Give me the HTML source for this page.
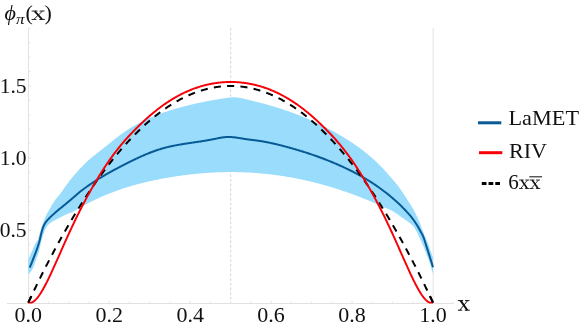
<!DOCTYPE html>
<html><head><meta charset="utf-8"><title>plot</title>
<style>
html,body{margin:0;padding:0;background:#fff;}
svg{display:block;will-change:transform;}
text{font-family:"Liberation Serif",serif;fill:#111;}
</style></head><body>
<svg width="580" height="327" viewBox="0 0 580 327">
<rect width="580" height="327" fill="#fff"/>
<!-- grid / axes -->
<g stroke="#e2e2e2" stroke-width="1" fill="none">
<line x1="230.65" y1="27.9" x2="230.65" y2="303" stroke-dasharray="2.8 1.92" stroke="#d6d6d6"/>
<line x1="433.15" y1="28" x2="433.15" y2="303"/>
<line x1="28.5" y1="28" x2="28.5" y2="303"/>
<line x1="7" y1="303.5" x2="453.6" y2="303.5"/>
<line x1="48.53" y1="303" x2="48.53" y2="301.70"/><line x1="68.77" y1="303" x2="68.77" y2="301.70"/><line x1="89.01" y1="303" x2="89.01" y2="301.70"/><line x1="109.24" y1="303" x2="109.24" y2="300.80"/><line x1="129.47" y1="303" x2="129.47" y2="301.70"/><line x1="149.71" y1="303" x2="149.71" y2="301.70"/><line x1="169.95" y1="303" x2="169.95" y2="301.70"/><line x1="190.18" y1="303" x2="190.18" y2="300.80"/><line x1="210.42" y1="303" x2="210.42" y2="301.70"/><line x1="250.89" y1="303" x2="250.89" y2="301.70"/><line x1="271.12" y1="303" x2="271.12" y2="300.80"/><line x1="291.36" y1="303" x2="291.36" y2="301.70"/><line x1="311.59" y1="303" x2="311.59" y2="301.70"/><line x1="331.82" y1="303" x2="331.82" y2="301.70"/><line x1="352.06" y1="303" x2="352.06" y2="300.80"/><line x1="372.30" y1="303" x2="372.30" y2="301.70"/><line x1="392.53" y1="303" x2="392.53" y2="301.70"/><line x1="412.77" y1="303" x2="412.77" y2="301.70"/><line x1="453.2" y1="303" x2="453.2" y2="301.8"/><line x1="29" y1="288.16" x2="30.30" y2="288.16"/><line x1="29" y1="273.72" x2="30.30" y2="273.72"/><line x1="29" y1="259.28" x2="30.30" y2="259.28"/><line x1="29" y1="244.84" x2="30.30" y2="244.84"/><line x1="29" y1="230.40" x2="31.20" y2="230.40"/><line x1="29" y1="215.96" x2="30.30" y2="215.96"/><line x1="29" y1="201.52" x2="30.30" y2="201.52"/><line x1="29" y1="187.08" x2="30.30" y2="187.08"/><line x1="29" y1="172.64" x2="30.30" y2="172.64"/><line x1="29" y1="158.20" x2="31.20" y2="158.20"/><line x1="29" y1="143.76" x2="30.30" y2="143.76"/><line x1="29" y1="129.32" x2="30.30" y2="129.32"/><line x1="29" y1="114.88" x2="30.30" y2="114.88"/><line x1="29" y1="100.44" x2="30.30" y2="100.44"/><line x1="29" y1="86.00" x2="31.20" y2="86.00"/><line x1="29" y1="71.56" x2="30.30" y2="71.56"/><line x1="29" y1="57.12" x2="30.30" y2="57.12"/><line x1="29" y1="42.68" x2="30.30" y2="42.68"/><line x1="29" y1="28.24" x2="30.30" y2="28.24"/>
</g>
<!-- band -->
<path d="M28.30,259.20 L28.98,257.72 L29.65,256.25 L30.33,254.78 L31.00,253.31 L31.68,251.85 L32.35,250.38 L33.03,248.87 L33.71,247.30 L34.38,245.75 L35.06,244.27 L35.73,242.92 L36.41,241.78 L37.08,240.94 L37.76,239.88 L38.43,237.98 L39.11,235.46 L39.79,232.87 L40.46,230.66 L41.14,228.55 L41.81,226.52 L42.49,224.56 L43.16,222.70 L43.84,220.91 L44.52,219.19 L45.19,217.55 L45.87,216.01 L46.54,214.60 L47.22,213.30 L47.89,212.07 L48.57,210.89 L49.24,209.73 L49.92,208.57 L50.60,207.40 L51.27,206.25 L51.95,205.11 L52.62,203.99 L53.30,202.89 L53.97,201.79 L54.65,200.72 L55.33,199.75 L56.00,198.87 L56.68,198.05 L57.35,197.26 L58.03,196.49 L58.70,195.71 L59.38,194.91 L60.05,194.06 L60.73,193.16 L61.41,192.24 L62.08,191.28 L62.76,190.31 L63.43,189.33 L64.11,188.35 L64.78,187.37 L65.46,186.40 L66.14,185.45 L66.81,184.52 L67.49,183.62 L68.16,182.72 L68.84,181.83 L69.51,180.94 L70.19,180.07 L70.86,179.21 L71.54,178.35 L72.22,177.52 L72.89,176.69 L73.57,175.89 L74.24,175.09 L74.92,174.31 L75.59,173.55 L76.27,172.79 L76.95,172.03 L77.62,171.29 L78.30,170.55 L78.97,169.81 L79.65,169.08 L80.32,168.36 L81.00,167.64 L81.67,166.93 L82.35,166.23 L83.03,165.54 L83.70,164.85 L84.38,164.18 L85.05,163.52 L85.73,162.87 L86.40,162.22 L87.08,161.59 L87.76,160.97 L88.43,160.35 L89.11,159.74 L89.78,159.15 L90.46,158.56 L91.13,157.99 L91.81,157.42 L92.48,156.86 L93.16,156.30 L93.84,155.75 L94.51,155.21 L95.19,154.68 L95.86,154.14 L96.54,153.61 L97.21,153.09 L97.89,152.56 L98.57,152.04 L99.24,151.52 L99.92,150.99 L100.59,150.47 L101.27,149.95 L101.94,149.42 L102.62,148.89 L103.29,148.36 L103.97,147.83 L104.65,147.29 L105.32,146.75 L106.00,146.21 L106.67,145.66 L107.35,145.12 L108.02,144.57 L108.70,144.02 L109.38,143.47 L110.05,142.93 L110.73,142.38 L111.40,141.83 L112.08,141.29 L112.75,140.74 L113.43,140.20 L114.10,139.66 L114.78,139.12 L115.46,138.59 L116.13,138.06 L116.81,137.53 L117.48,137.01 L118.16,136.49 L118.83,135.98 L119.51,135.47 L120.19,134.97 L120.86,134.47 L121.54,133.98 L122.21,133.49 L122.89,133.01 L123.56,132.54 L124.24,132.07 L124.91,131.61 L125.59,131.15 L126.27,130.70 L126.94,130.25 L127.62,129.81 L128.29,129.37 L128.97,128.94 L129.64,128.51 L130.32,128.09 L131.00,127.67 L131.67,127.26 L132.35,126.86 L133.02,126.46 L133.70,126.06 L134.37,125.67 L135.05,125.28 L135.72,124.90 L136.40,124.52 L137.08,124.15 L137.75,123.78 L138.43,123.41 L139.10,123.05 L139.78,122.70 L140.45,122.35 L141.13,122.00 L141.81,121.66 L142.48,121.32 L143.16,120.98 L143.83,120.65 L144.51,120.33 L145.18,120.00 L145.86,119.69 L146.53,119.37 L147.21,119.06 L147.89,118.75 L148.56,118.45 L149.24,118.15 L149.91,117.85 L150.59,117.56 L151.26,117.27 L151.94,116.98 L152.62,116.70 L153.29,116.42 L153.97,116.15 L154.64,115.87 L155.32,115.60 L155.99,115.34 L156.67,115.07 L157.34,114.81 L158.02,114.56 L158.70,114.30 L159.37,114.05 L160.05,113.80 L160.72,113.55 L161.40,113.31 L162.07,113.07 L162.75,112.83 L163.43,112.60 L164.10,112.36 L164.78,112.13 L165.45,111.90 L166.13,111.68 L166.80,111.46 L167.48,111.23 L168.15,111.01 L168.83,110.80 L169.51,110.58 L170.18,110.37 L170.86,110.16 L171.53,109.95 L172.21,109.74 L172.88,109.54 L173.56,109.33 L174.24,109.13 L174.91,108.93 L175.59,108.73 L176.26,108.54 L176.94,108.34 L177.61,108.15 L178.29,107.96 L178.96,107.77 L179.64,107.58 L180.32,107.40 L180.99,107.21 L181.67,107.03 L182.34,106.85 L183.02,106.67 L183.69,106.49 L184.37,106.32 L185.05,106.14 L185.72,105.97 L186.40,105.80 L187.07,105.63 L187.75,105.46 L188.42,105.30 L189.10,105.13 L189.77,104.97 L190.45,104.81 L191.13,104.65 L191.80,104.49 L192.48,104.33 L193.15,104.17 L193.83,104.02 L194.50,103.87 L195.18,103.71 L195.86,103.56 L196.53,103.41 L197.21,103.27 L197.88,103.12 L198.56,102.97 L199.23,102.83 L199.91,102.69 L200.58,102.55 L201.26,102.41 L201.94,102.27 L202.61,102.13 L203.29,101.99 L203.96,101.86 L204.64,101.73 L205.31,101.59 L205.99,101.46 L206.67,101.33 L207.34,101.20 L208.02,101.07 L208.69,100.95 L209.37,100.82 L210.04,100.70 L210.72,100.57 L211.39,100.45 L212.07,100.33 L212.75,100.21 L213.42,100.09 L214.10,99.97 L214.77,99.85 L215.45,99.74 L216.12,99.62 L216.80,99.51 L217.48,99.39 L218.15,99.28 L218.83,99.17 L219.50,99.06 L220.18,98.95 L220.85,98.84 L221.53,98.73 L222.20,98.62 L222.88,98.52 L223.56,98.41 L224.23,98.31 L224.91,98.20 L225.58,98.10 L226.26,98.01 L226.93,97.91 L227.61,97.82 L228.29,97.74 L228.96,97.66 L229.64,97.59 L230.31,97.53 L230.99,97.47 L231.66,97.43 L232.34,97.39 L233.01,97.37 L233.69,97.36 L234.37,97.36 L235.04,97.37 L235.72,97.40 L236.39,97.44 L237.07,97.50 L237.74,97.57 L238.42,97.66 L239.10,97.76 L239.77,97.87 L240.45,97.99 L241.12,98.12 L241.80,98.26 L242.47,98.41 L243.15,98.56 L243.82,98.72 L244.50,98.88 L245.18,99.04 L245.85,99.20 L246.53,99.36 L247.20,99.52 L247.88,99.68 L248.55,99.85 L249.23,100.01 L249.91,100.18 L250.58,100.34 L251.26,100.51 L251.93,100.67 L252.61,100.84 L253.28,101.01 L253.96,101.17 L254.63,101.34 L255.31,101.51 L255.99,101.68 L256.66,101.85 L257.34,102.03 L258.01,102.20 L258.69,102.37 L259.36,102.55 L260.04,102.72 L260.72,102.90 L261.39,103.08 L262.07,103.26 L262.74,103.44 L263.42,103.62 L264.09,103.80 L264.77,103.98 L265.44,104.17 L266.12,104.35 L266.80,104.54 L267.47,104.73 L268.15,104.92 L268.82,105.11 L269.50,105.30 L270.17,105.50 L270.85,105.69 L271.53,105.89 L272.20,106.09 L272.88,106.29 L273.55,106.49 L274.23,106.69 L274.90,106.90 L275.58,107.10 L276.25,107.31 L276.93,107.52 L277.61,107.73 L278.28,107.94 L278.96,108.15 L279.63,108.37 L280.31,108.59 L280.98,108.80 L281.66,109.02 L282.34,109.24 L283.01,109.47 L283.69,109.69 L284.36,109.92 L285.04,110.15 L285.71,110.38 L286.39,110.61 L287.06,110.84 L287.74,111.08 L288.42,111.31 L289.09,111.55 L289.77,111.79 L290.44,112.03 L291.12,112.27 L291.79,112.52 L292.47,112.77 L293.15,113.01 L293.82,113.26 L294.50,113.52 L295.17,113.77 L295.85,114.03 L296.52,114.28 L297.20,114.54 L297.87,114.80 L298.55,115.07 L299.23,115.33 L299.90,115.60 L300.58,115.87 L301.25,116.14 L301.93,116.41 L302.60,116.69 L303.28,116.96 L303.96,117.24 L304.63,117.52 L305.31,117.80 L305.98,118.09 L306.66,118.37 L307.33,118.66 L308.01,118.95 L308.68,119.24 L309.36,119.54 L310.04,119.83 L310.71,120.13 L311.39,120.43 L312.06,120.73 L312.74,121.04 L313.41,121.35 L314.09,121.65 L314.77,121.96 L315.44,122.28 L316.12,122.59 L316.79,122.91 L317.47,123.23 L318.14,123.55 L318.82,123.87 L319.49,124.20 L320.17,124.53 L320.85,124.86 L321.52,125.19 L322.20,125.52 L322.87,125.86 L323.55,126.20 L324.22,126.54 L324.90,126.88 L325.58,127.23 L326.25,127.58 L326.93,127.93 L327.60,128.28 L328.28,128.64 L328.95,128.99 L329.63,129.35 L330.30,129.71 L330.98,130.08 L331.66,130.45 L332.33,130.81 L333.01,131.19 L333.68,131.56 L334.36,131.94 L335.03,132.31 L335.71,132.70 L336.39,133.08 L337.06,133.46 L337.74,133.85 L338.41,134.24 L339.09,134.64 L339.76,135.03 L340.44,135.43 L341.11,135.83 L341.79,136.23 L342.47,136.64 L343.14,137.05 L343.82,137.46 L344.49,137.87 L345.17,138.29 L345.84,138.71 L346.52,139.13 L347.20,139.55 L347.87,139.98 L348.55,140.41 L349.22,140.85 L349.90,141.28 L350.57,141.72 L351.25,142.17 L351.92,142.61 L352.60,143.06 L353.28,143.52 L353.95,143.98 L354.63,144.44 L355.30,144.91 L355.98,145.38 L356.65,145.85 L357.33,146.33 L358.01,146.81 L358.68,147.30 L359.36,147.79 L360.03,148.29 L360.71,148.79 L361.38,149.30 L362.06,149.81 L362.73,150.32 L363.41,150.84 L364.09,151.37 L364.76,151.90 L365.44,152.44 L366.11,152.98 L366.79,153.53 L367.46,154.08 L368.14,154.64 L368.82,155.20 L369.49,155.77 L370.17,156.35 L370.84,156.93 L371.52,157.52 L372.19,158.12 L372.87,158.72 L373.54,159.32 L374.22,159.94 L374.90,160.56 L375.57,161.18 L376.25,161.82 L376.92,162.46 L377.60,163.10 L378.27,163.76 L378.95,164.42 L379.63,165.09 L380.30,165.76 L380.98,166.45 L381.65,167.14 L382.33,167.84 L383.00,168.56 L383.68,169.29 L384.35,170.03 L385.03,170.78 L385.71,171.54 L386.38,172.31 L387.06,173.09 L387.73,173.87 L388.41,174.66 L389.08,175.44 L389.76,176.22 L390.44,176.99 L391.11,177.76 L391.79,178.52 L392.46,179.27 L393.14,180.03 L393.81,180.79 L394.49,181.56 L395.16,182.34 L395.84,183.14 L396.52,183.96 L397.19,184.80 L397.87,185.66 L398.54,186.55 L399.22,187.47 L399.89,188.41 L400.57,189.38 L401.25,190.37 L401.92,191.38 L402.60,192.40 L403.27,193.43 L403.95,194.46 L404.62,195.50 L405.30,196.53 L405.97,197.56 L406.65,198.59 L407.33,199.63 L408.00,200.69 L408.68,201.74 L409.35,202.81 L410.03,203.87 L410.70,204.93 L411.38,205.98 L412.06,207.06 L412.73,208.18 L413.41,209.37 L414.08,210.63 L414.76,211.95 L415.43,213.31 L416.11,214.70 L416.78,216.11 L417.46,217.54 L418.14,219.00 L418.81,220.52 L419.49,222.11 L420.16,223.81 L420.84,225.61 L421.51,227.44 L422.19,229.25 L422.87,231.02 L423.54,232.79 L424.22,234.53 L424.89,236.24 L425.57,237.85 L426.24,239.38 L426.92,240.91 L427.59,242.49 L428.27,244.21 L428.95,246.07 L429.62,248.02 L430.30,249.99 L430.97,251.92 L431.65,253.80 L432.32,255.66 L433.00,257.50 L433.00,273.50 L432.32,271.86 L431.65,269.64 L430.97,266.81 L430.30,264.42 L429.62,262.41 L428.95,260.57 L428.27,258.81 L427.59,257.05 L426.92,255.25 L426.24,253.47 L425.57,251.70 L424.89,249.96 L424.22,248.27 L423.54,246.61 L422.87,245.02 L422.19,243.47 L421.51,241.97 L420.84,240.50 L420.16,239.05 L419.49,237.61 L418.81,236.17 L418.14,234.71 L417.46,233.27 L416.78,231.91 L416.11,230.66 L415.43,229.46 L414.76,228.31 L414.08,227.26 L413.41,226.34 L412.73,225.59 L412.06,224.91 L411.38,224.30 L410.70,223.74 L410.03,223.21 L409.35,222.70 L408.68,222.19 L408.00,221.67 L407.33,221.16 L406.65,220.67 L405.97,220.20 L405.30,219.73 L404.62,219.27 L403.95,218.81 L403.27,218.34 L402.60,217.88 L401.92,217.40 L401.25,216.92 L400.57,216.43 L399.89,215.95 L399.22,215.46 L398.54,214.98 L397.87,214.50 L397.19,214.03 L396.52,213.57 L395.84,213.13 L395.16,212.69 L394.49,212.25 L393.81,211.83 L393.14,211.42 L392.46,211.03 L391.79,210.65 L391.11,210.31 L390.44,209.98 L389.76,209.68 L389.08,209.39 L388.41,209.10 L387.73,208.82 L387.06,208.54 L386.38,208.26 L385.71,207.98 L385.03,207.69 L384.35,207.40 L383.68,207.11 L383.00,206.81 L382.33,206.50 L381.65,206.19 L380.98,205.89 L380.30,205.58 L379.63,205.28 L378.95,204.98 L378.27,204.67 L377.60,204.37 L376.92,204.07 L376.25,203.78 L375.57,203.48 L374.90,203.19 L374.22,202.89 L373.54,202.60 L372.87,202.31 L372.19,202.02 L371.52,201.74 L370.84,201.45 L370.17,201.17 L369.49,200.88 L368.82,200.60 L368.14,200.32 L367.46,200.04 L366.79,199.76 L366.11,199.49 L365.44,199.21 L364.76,198.94 L364.09,198.67 L363.41,198.40 L362.73,198.13 L362.06,197.86 L361.38,197.59 L360.71,197.33 L360.03,197.06 L359.36,196.80 L358.68,196.54 L358.01,196.28 L357.33,196.02 L356.65,195.77 L355.98,195.51 L355.30,195.26 L354.63,195.01 L353.95,194.75 L353.28,194.51 L352.60,194.26 L351.92,194.01 L351.25,193.76 L350.57,193.52 L349.90,193.28 L349.22,193.04 L348.55,192.80 L347.87,192.56 L347.20,192.32 L346.52,192.09 L345.84,191.85 L345.17,191.62 L344.49,191.39 L343.82,191.16 L343.14,190.93 L342.47,190.70 L341.79,190.47 L341.11,190.25 L340.44,190.03 L339.76,189.81 L339.09,189.59 L338.41,189.37 L337.74,189.15 L337.06,188.93 L336.39,188.72 L335.71,188.50 L335.03,188.29 L334.36,188.08 L333.68,187.87 L333.01,187.66 L332.33,187.46 L331.66,187.25 L330.98,187.05 L330.30,186.85 L329.63,186.65 L328.95,186.45 L328.28,186.25 L327.60,186.05 L326.93,185.86 L326.25,185.66 L325.58,185.47 L324.90,185.28 L324.22,185.09 L323.55,184.90 L322.87,184.71 L322.20,184.53 L321.52,184.34 L320.85,184.16 L320.17,183.98 L319.49,183.80 L318.82,183.62 L318.14,183.44 L317.47,183.27 L316.79,183.09 L316.12,182.92 L315.44,182.75 L314.77,182.58 L314.09,182.41 L313.41,182.24 L312.74,182.07 L312.06,181.91 L311.39,181.75 L310.71,181.58 L310.04,181.42 L309.36,181.26 L308.68,181.10 L308.01,180.95 L307.33,180.79 L306.66,180.64 L305.98,180.49 L305.31,180.34 L304.63,180.19 L303.96,180.04 L303.28,179.89 L302.60,179.75 L301.93,179.60 L301.25,179.46 L300.58,179.32 L299.90,179.18 L299.23,179.04 L298.55,178.90 L297.87,178.76 L297.20,178.63 L296.52,178.50 L295.85,178.37 L295.17,178.23 L294.50,178.11 L293.82,177.98 L293.15,177.85 L292.47,177.73 L291.79,177.60 L291.12,177.48 L290.44,177.36 L289.77,177.24 L289.09,177.12 L288.42,177.01 L287.74,176.89 L287.06,176.78 L286.39,176.66 L285.71,176.55 L285.04,176.44 L284.36,176.33 L283.69,176.23 L283.01,176.12 L282.34,176.02 L281.66,175.91 L280.98,175.81 L280.31,175.71 L279.63,175.61 L278.96,175.52 L278.28,175.42 L277.61,175.33 L276.93,175.23 L276.25,175.14 L275.58,175.05 L274.90,174.96 L274.23,174.87 L273.55,174.79 L272.88,174.70 L272.20,174.62 L271.53,174.53 L270.85,174.45 L270.17,174.37 L269.50,174.30 L268.82,174.22 L268.15,174.14 L267.47,174.07 L266.80,174.00 L266.12,173.92 L265.44,173.85 L264.77,173.79 L264.09,173.72 L263.42,173.65 L262.74,173.59 L262.07,173.52 L261.39,173.46 L260.72,173.40 L260.04,173.34 L259.36,173.28 L258.69,173.23 L258.01,173.17 L257.34,173.12 L256.66,173.07 L255.99,173.02 L255.31,172.97 L254.63,172.92 L253.96,172.87 L253.28,172.82 L252.61,172.78 L251.93,172.74 L251.26,172.70 L250.58,172.66 L249.91,172.62 L249.23,172.58 L248.55,172.54 L247.88,172.51 L247.20,172.48 L246.53,172.44 L245.85,172.41 L245.18,172.38 L244.50,172.36 L243.82,172.33 L243.15,172.30 L242.47,172.28 L241.80,172.26 L241.12,172.24 L240.45,172.22 L239.77,172.20 L239.10,172.18 L238.42,172.16 L237.74,172.15 L237.07,172.14 L236.39,172.13 L235.72,172.12 L235.04,172.11 L234.37,172.10 L233.69,172.09 L233.01,172.09 L232.34,172.08 L231.66,172.08 L230.99,172.08 L230.31,172.08 L229.64,172.08 L228.96,172.09 L228.29,172.09 L227.61,172.10 L226.93,172.10 L226.26,172.11 L225.58,172.12 L224.91,172.13 L224.23,172.15 L223.56,172.16 L222.88,172.18 L222.20,172.19 L221.53,172.21 L220.85,172.23 L220.18,172.25 L219.50,172.27 L218.83,172.30 L218.15,172.32 L217.48,172.35 L216.80,172.37 L216.12,172.40 L215.45,172.43 L214.77,172.46 L214.10,172.50 L213.42,172.53 L212.75,172.56 L212.07,172.60 L211.39,172.64 L210.72,172.68 L210.04,172.72 L209.37,172.76 L208.69,172.80 L208.02,172.85 L207.34,172.89 L206.67,172.94 L205.99,172.99 L205.31,173.03 L204.64,173.08 L203.96,173.14 L203.29,173.19 L202.61,173.24 L201.94,173.30 L201.26,173.36 L200.58,173.41 L199.91,173.47 L199.23,173.53 L198.56,173.60 L197.88,173.66 L197.21,173.72 L196.53,173.79 L195.86,173.86 L195.18,173.92 L194.50,173.99 L193.83,174.06 L193.15,174.14 L192.48,174.21 L191.80,174.28 L191.13,174.36 L190.45,174.43 L189.77,174.51 L189.10,174.59 L188.42,174.67 L187.75,174.75 L187.07,174.84 L186.40,174.92 L185.72,175.01 L185.05,175.09 L184.37,175.18 L183.69,175.27 L183.02,175.36 L182.34,175.45 L181.67,175.54 L180.99,175.64 L180.32,175.73 L179.64,175.83 L178.96,175.92 L178.29,176.02 L177.61,176.12 L176.94,176.22 L176.26,176.32 L175.59,176.43 L174.91,176.53 L174.24,176.64 L173.56,176.74 L172.88,176.85 L172.21,176.96 L171.53,177.07 L170.86,177.18 L170.18,177.30 L169.51,177.41 L168.83,177.52 L168.15,177.64 L167.48,177.76 L166.80,177.88 L166.13,177.99 L165.45,178.12 L164.78,178.24 L164.10,178.36 L163.43,178.48 L162.75,178.61 L162.07,178.74 L161.40,178.86 L160.72,178.99 L160.05,179.12 L159.37,179.25 L158.70,179.38 L158.02,179.52 L157.34,179.65 L156.67,179.79 L155.99,179.92 L155.32,180.06 L154.64,180.20 L153.97,180.34 L153.29,180.49 L152.62,180.63 L151.94,180.77 L151.26,180.92 L150.59,181.07 L149.91,181.22 L149.24,181.37 L148.56,181.52 L147.89,181.67 L147.21,181.83 L146.53,181.98 L145.86,182.14 L145.18,182.30 L144.51,182.46 L143.83,182.63 L143.16,182.79 L142.48,182.96 L141.81,183.12 L141.13,183.29 L140.45,183.46 L139.78,183.64 L139.10,183.81 L138.43,183.99 L137.75,184.17 L137.08,184.34 L136.40,184.53 L135.72,184.71 L135.05,184.89 L134.37,185.08 L133.70,185.27 L133.02,185.46 L132.35,185.65 L131.67,185.85 L131.00,186.04 L130.32,186.24 L129.64,186.44 L128.97,186.64 L128.29,186.85 L127.62,187.05 L126.94,187.26 L126.27,187.47 L125.59,187.68 L124.91,187.90 L124.24,188.11 L123.56,188.33 L122.89,188.55 L122.21,188.78 L121.54,189.00 L120.86,189.23 L120.19,189.46 L119.51,189.69 L118.83,189.92 L118.16,190.16 L117.48,190.40 L116.81,190.64 L116.13,190.88 L115.46,191.13 L114.78,191.38 L114.10,191.63 L113.43,191.88 L112.75,192.13 L112.08,192.39 L111.40,192.65 L110.73,192.91 L110.05,193.18 L109.38,193.45 L108.70,193.71 L108.02,193.99 L107.35,194.26 L106.67,194.54 L106.00,194.82 L105.32,195.10 L104.65,195.39 L103.97,195.68 L103.29,195.97 L102.62,196.26 L101.94,196.56 L101.27,196.85 L100.59,197.16 L99.92,197.46 L99.24,197.77 L98.57,198.07 L97.89,198.39 L97.21,198.70 L96.54,199.02 L95.86,199.34 L95.19,199.66 L94.51,199.98 L93.84,200.30 L93.16,200.63 L92.48,200.96 L91.81,201.29 L91.13,201.62 L90.46,201.96 L89.78,202.30 L89.11,202.63 L88.43,202.97 L87.76,203.31 L87.08,203.66 L86.40,204.00 L85.73,204.35 L85.05,204.69 L84.38,205.04 L83.70,205.40 L83.03,205.76 L82.35,206.14 L81.67,206.52 L81.00,206.91 L80.32,207.32 L79.65,207.74 L78.97,208.17 L78.30,208.61 L77.62,209.05 L76.95,209.50 L76.27,209.94 L75.59,210.37 L74.92,210.78 L74.24,211.16 L73.57,211.52 L72.89,211.84 L72.22,212.13 L71.54,212.40 L70.86,212.64 L70.19,212.88 L69.51,213.12 L68.84,213.37 L68.16,213.62 L67.49,213.89 L66.81,214.18 L66.14,214.49 L65.46,214.81 L64.78,215.13 L64.11,215.47 L63.43,215.81 L62.76,216.16 L62.08,216.50 L61.41,216.85 L60.73,217.18 L60.05,217.52 L59.38,217.85 L58.70,218.18 L58.03,218.52 L57.35,218.86 L56.68,219.20 L56.00,219.55 L55.33,219.91 L54.65,220.28 L53.97,220.65 L53.30,221.02 L52.62,221.39 L51.95,221.78 L51.27,222.20 L50.60,222.67 L49.92,223.18 L49.24,223.77 L48.57,224.43 L47.89,225.18 L47.22,226.02 L46.54,226.98 L45.87,228.07 L45.19,229.48 L44.52,231.12 L43.84,232.89 L43.16,234.80 L42.49,236.91 L41.81,239.23 L41.14,241.87 L40.46,244.98 L39.79,248.07 L39.11,250.66 L38.43,252.86 L37.76,254.85 L37.08,256.74 L36.41,258.61 L35.73,260.57 L35.06,262.61 L34.38,264.62 L33.71,266.48 L33.03,268.05 L32.35,269.28 L31.68,270.30 L31.00,271.19 L30.33,272.00 L29.65,272.75 L28.98,273.42 L28.30,274.00 Z" fill="#99dcfb" stroke="none"/>
<!-- LaMET -->
<path d="M29.65,267.64 L30.33,266.02 L31.00,264.40 L31.68,262.76 L32.35,261.10 L33.03,259.42 L33.71,257.70 L34.38,255.95 L35.06,254.15 L35.73,252.35 L36.41,250.54 L37.08,248.70 L37.76,246.77 L38.43,244.72 L39.11,242.51 L39.79,240.00 L40.46,236.99 L41.14,234.04 L41.81,231.47 L42.49,229.08 L43.16,227.09 L43.84,225.53 L44.52,224.18 L45.19,223.02 L45.87,222.02 L46.54,221.15 L47.22,220.36 L47.89,219.64 L48.57,218.95 L49.24,218.26 L49.92,217.57 L50.60,216.90 L51.27,216.25 L51.95,215.62 L52.62,214.99 L53.30,214.38 L53.97,213.76 L54.65,213.15 L55.33,212.54 L56.00,211.95 L56.68,211.36 L57.35,210.77 L58.03,210.20 L58.70,209.63 L59.38,209.07 L60.05,208.52 L60.73,207.98 L61.41,207.45 L62.08,206.92 L62.76,206.38 L63.43,205.84 L64.11,205.30 L64.78,204.75 L65.46,204.19 L66.14,203.63 L66.81,203.06 L67.49,202.50 L68.16,201.93 L68.84,201.36 L69.51,200.79 L70.19,200.23 L70.86,199.66 L71.54,199.09 L72.22,198.52 L72.89,197.94 L73.57,197.36 L74.24,196.77 L74.92,196.18 L75.59,195.58 L76.27,194.99 L76.95,194.40 L77.62,193.80 L78.30,193.22 L78.97,192.64 L79.65,192.08 L80.32,191.53 L81.00,190.99 L81.67,190.46 L82.35,189.95 L83.03,189.44 L83.70,188.95 L84.38,188.45 L85.05,187.96 L85.73,187.47 L86.40,186.99 L87.08,186.51 L87.76,186.03 L88.43,185.56 L89.11,185.09 L89.78,184.63 L90.46,184.17 L91.13,183.71 L91.81,183.26 L92.48,182.81 L93.16,182.36 L93.84,181.92 L94.51,181.48 L95.19,181.05 L95.86,180.61 L96.54,180.18 L97.21,179.76 L97.89,179.34 L98.57,178.92 L99.24,178.50 L99.92,178.09 L100.59,177.68 L101.27,177.27 L101.94,176.86 L102.62,176.46 L103.29,176.06 L103.97,175.66 L104.65,175.27 L105.32,174.88 L106.00,174.49 L106.67,174.10 L107.35,173.71 L108.02,173.33 L108.70,172.95 L109.38,172.57 L110.05,172.20 L110.73,171.82 L111.40,171.45 L112.08,171.08 L112.75,170.71 L113.43,170.34 L114.10,169.97 L114.78,169.61 L115.46,169.25 L116.13,168.89 L116.81,168.53 L117.48,168.17 L118.16,167.81 L118.83,167.45 L119.51,167.10 L120.19,166.75 L120.86,166.39 L121.54,166.04 L122.21,165.69 L122.89,165.34 L123.56,164.99 L124.24,164.64 L124.91,164.30 L125.59,163.95 L126.27,163.61 L126.94,163.26 L127.62,162.92 L128.29,162.58 L128.97,162.24 L129.64,161.90 L130.32,161.57 L131.00,161.23 L131.67,160.90 L132.35,160.57 L133.02,160.24 L133.70,159.91 L134.37,159.58 L135.05,159.26 L135.72,158.94 L136.40,158.62 L137.08,158.30 L137.75,157.98 L138.43,157.67 L139.10,157.36 L139.78,157.05 L140.45,156.74 L141.13,156.44 L141.81,156.14 L142.48,155.84 L143.16,155.54 L143.83,155.25 L144.51,154.96 L145.18,154.67 L145.86,154.39 L146.53,154.11 L147.21,153.83 L147.89,153.55 L148.56,153.28 L149.24,153.01 L149.91,152.74 L150.59,152.48 L151.26,152.22 L151.94,151.96 L152.62,151.71 L153.29,151.46 L153.97,151.22 L154.64,150.97 L155.32,150.74 L155.99,150.50 L156.67,150.27 L157.34,150.04 L158.02,149.82 L158.70,149.60 L159.37,149.39 L160.05,149.18 L160.72,148.97 L161.40,148.77 L162.07,148.57 L162.75,148.38 L163.43,148.19 L164.10,148.00 L164.78,147.82 L165.45,147.64 L166.13,147.47 L166.80,147.30 L167.48,147.13 L168.15,146.97 L168.83,146.81 L169.51,146.65 L170.18,146.50 L170.86,146.35 L171.53,146.20 L172.21,146.06 L172.88,145.91 L173.56,145.77 L174.24,145.64 L174.91,145.50 L175.59,145.37 L176.26,145.24 L176.94,145.12 L177.61,144.99 L178.29,144.87 L178.96,144.75 L179.64,144.63 L180.32,144.52 L180.99,144.40 L181.67,144.29 L182.34,144.18 L183.02,144.07 L183.69,143.96 L184.37,143.85 L185.05,143.74 L185.72,143.64 L186.40,143.53 L187.07,143.43 L187.75,143.33 L188.42,143.22 L189.10,143.12 L189.77,143.02 L190.45,142.92 L191.13,142.82 L191.80,142.72 L192.48,142.62 L193.15,142.52 L193.83,142.42 L194.50,142.32 L195.18,142.22 L195.86,142.12 L196.53,142.02 L197.21,141.92 L197.88,141.82 L198.56,141.72 L199.23,141.62 L199.91,141.52 L200.58,141.41 L201.26,141.31 L201.94,141.20 L202.61,141.10 L203.29,140.99 L203.96,140.88 L204.64,140.77 L205.31,140.66 L205.99,140.55 L206.67,140.43 L207.34,140.32 L208.02,140.20 L208.69,140.08 L209.37,139.96 L210.04,139.84 L210.72,139.71 L211.39,139.59 L212.07,139.46 L212.75,139.33 L213.42,139.20 L214.10,139.06 L214.77,138.92 L215.45,138.78 L216.12,138.64 L216.80,138.50 L217.48,138.36 L218.15,138.22 L218.83,138.08 L219.50,137.95 L220.18,137.82 L220.85,137.70 L221.53,137.59 L222.20,137.49 L222.88,137.39 L223.56,137.31 L224.23,137.23 L224.91,137.16 L225.58,137.11 L226.26,137.06 L226.93,137.03 L227.61,137.00 L228.29,136.99 L228.96,136.99 L229.64,137.00 L230.31,137.02 L230.99,137.05 L231.66,137.10 L232.34,137.15 L233.01,137.21 L233.69,137.27 L234.37,137.35 L235.04,137.43 L235.72,137.51 L236.39,137.61 L237.07,137.70 L237.74,137.80 L238.42,137.91 L239.10,138.01 L239.77,138.12 L240.45,138.23 L241.12,138.35 L241.80,138.46 L242.47,138.57 L243.15,138.68 L243.82,138.79 L244.50,138.90 L245.18,139.00 L245.85,139.10 L246.53,139.20 L247.20,139.30 L247.88,139.39 L248.55,139.48 L249.23,139.57 L249.91,139.66 L250.58,139.74 L251.26,139.83 L251.93,139.91 L252.61,140.00 L253.28,140.08 L253.96,140.17 L254.63,140.25 L255.31,140.34 L255.99,140.43 L256.66,140.52 L257.34,140.61 L258.01,140.70 L258.69,140.80 L259.36,140.90 L260.04,141.00 L260.72,141.11 L261.39,141.22 L262.07,141.33 L262.74,141.44 L263.42,141.56 L264.09,141.68 L264.77,141.80 L265.44,141.92 L266.12,142.05 L266.80,142.18 L267.47,142.31 L268.15,142.45 L268.82,142.58 L269.50,142.72 L270.17,142.86 L270.85,143.01 L271.53,143.15 L272.20,143.30 L272.88,143.45 L273.55,143.60 L274.23,143.76 L274.90,143.92 L275.58,144.07 L276.25,144.23 L276.93,144.40 L277.61,144.56 L278.28,144.72 L278.96,144.89 L279.63,145.06 L280.31,145.23 L280.98,145.40 L281.66,145.58 L282.34,145.75 L283.01,145.93 L283.69,146.10 L284.36,146.28 L285.04,146.46 L285.71,146.64 L286.39,146.83 L287.06,147.01 L287.74,147.19 L288.42,147.38 L289.09,147.57 L289.77,147.75 L290.44,147.94 L291.12,148.13 L291.79,148.32 L292.47,148.51 L293.15,148.71 L293.82,148.90 L294.50,149.10 L295.17,149.29 L295.85,149.49 L296.52,149.69 L297.20,149.89 L297.87,150.09 L298.55,150.29 L299.23,150.50 L299.90,150.70 L300.58,150.91 L301.25,151.12 L301.93,151.33 L302.60,151.54 L303.28,151.75 L303.96,151.96 L304.63,152.17 L305.31,152.39 L305.98,152.61 L306.66,152.82 L307.33,153.04 L308.01,153.26 L308.68,153.49 L309.36,153.71 L310.04,153.94 L310.71,154.16 L311.39,154.39 L312.06,154.62 L312.74,154.85 L313.41,155.08 L314.09,155.32 L314.77,155.55 L315.44,155.79 L316.12,156.03 L316.79,156.27 L317.47,156.51 L318.14,156.76 L318.82,157.00 L319.49,157.25 L320.17,157.50 L320.85,157.75 L321.52,158.00 L322.20,158.25 L322.87,158.51 L323.55,158.76 L324.22,159.02 L324.90,159.28 L325.58,159.54 L326.25,159.81 L326.93,160.07 L327.60,160.34 L328.28,160.61 L328.95,160.88 L329.63,161.15 L330.30,161.43 L330.98,161.70 L331.66,161.98 L332.33,162.26 L333.01,162.54 L333.68,162.83 L334.36,163.11 L335.03,163.40 L335.71,163.69 L336.39,163.98 L337.06,164.28 L337.74,164.57 L338.41,164.87 L339.09,165.17 L339.76,165.47 L340.44,165.77 L341.11,166.08 L341.79,166.39 L342.47,166.70 L343.14,167.01 L343.82,167.32 L344.49,167.64 L345.17,167.96 L345.84,168.28 L346.52,168.60 L347.20,168.92 L347.87,169.25 L348.55,169.58 L349.22,169.91 L349.90,170.24 L350.57,170.58 L351.25,170.92 L351.92,171.26 L352.60,171.61 L353.28,171.95 L353.95,172.30 L354.63,172.65 L355.30,173.01 L355.98,173.37 L356.65,173.73 L357.33,174.09 L358.01,174.46 L358.68,174.83 L359.36,175.20 L360.03,175.58 L360.71,175.95 L361.38,176.34 L362.06,176.72 L362.73,177.11 L363.41,177.50 L364.09,177.89 L364.76,178.29 L365.44,178.69 L366.11,179.10 L366.79,179.51 L367.46,179.92 L368.14,180.33 L368.82,180.75 L369.49,181.17 L370.17,181.60 L370.84,182.03 L371.52,182.46 L372.19,182.90 L372.87,183.34 L373.54,183.79 L374.22,184.24 L374.90,184.69 L375.57,185.15 L376.25,185.61 L376.92,186.07 L377.60,186.54 L378.27,187.01 L378.95,187.49 L379.63,187.97 L380.30,188.46 L380.98,188.95 L381.65,189.44 L382.33,189.94 L383.00,190.44 L383.68,190.94 L384.35,191.45 L385.03,191.96 L385.71,192.48 L386.38,193.00 L387.06,193.54 L387.73,194.08 L388.41,194.63 L389.08,195.19 L389.76,195.75 L390.44,196.32 L391.11,196.89 L391.79,197.47 L392.46,198.05 L393.14,198.63 L393.81,199.21 L394.49,199.79 L395.16,200.38 L395.84,200.98 L396.52,201.59 L397.19,202.20 L397.87,202.82 L398.54,203.45 L399.22,204.09 L399.89,204.74 L400.57,205.40 L401.25,206.06 L401.92,206.74 L402.60,207.43 L403.27,208.12 L403.95,208.82 L404.62,209.52 L405.30,210.23 L405.97,210.93 L406.65,211.64 L407.33,212.35 L408.00,213.08 L408.68,213.82 L409.35,214.59 L410.03,215.37 L410.70,216.18 L411.38,217.03 L412.06,217.90 L412.73,218.80 L413.41,219.74 L414.08,220.70 L414.76,221.68 L415.43,222.69 L416.11,223.73 L416.78,224.82 L417.46,225.94 L418.14,227.09 L418.81,228.27 L419.49,229.47 L420.16,230.69 L420.84,231.90 L421.51,233.12 L422.19,234.40 L422.87,235.79 L423.54,237.34 L424.22,239.19 L424.89,241.28 L425.57,243.46 L426.24,245.63 L426.92,247.73 L427.59,249.86 L428.27,252.00 L428.95,254.15 L429.62,256.31 L430.30,258.47 L430.97,260.64 L431.65,262.82 L432.32,265.01 L433.00,267.20" fill="none" stroke="#075a95" stroke-width="2" stroke-linejoin="round"/>
<!-- 6x xbar -->
<path d="M28.30,302.60 L28.81,301.52 L29.31,300.44 L29.82,299.36 L30.33,298.28 L30.83,297.21 L31.34,296.14 L31.85,295.08 L32.35,294.01 L32.86,292.95 L33.37,291.89 L33.87,290.84 L34.38,289.78 L34.88,288.73 L35.39,287.69 L35.90,286.64 L36.40,285.60 L36.91,284.56 L37.42,283.52 L37.92,282.49 L38.43,281.46 L38.94,280.43 L39.44,279.40 L39.95,278.38 L40.46,277.36 L40.96,276.34 L41.47,275.32 L41.98,274.31 L42.48,273.30 L42.99,272.30 L43.50,271.29 L44.00,270.29 L44.51,269.29 L45.01,268.29 L45.52,267.30 L46.03,266.31 L46.53,265.32 L47.04,264.34 L47.55,263.35 L48.05,262.37 L48.56,261.40 L49.07,260.42 L49.57,259.45 L50.08,258.48 L50.59,257.52 L51.09,256.55 L51.60,255.59 L52.11,254.63 L52.61,253.68 L53.12,252.73 L53.63,251.78 L54.13,250.83 L54.64,249.88 L55.14,248.94 L55.65,248.00 L56.16,247.07 L56.66,246.13 L57.17,245.20 L57.68,244.27 L58.18,243.35 L58.69,242.42 L59.20,241.50 L59.70,240.59 L60.21,239.67 L60.72,238.76 L61.22,237.85 L61.73,236.94 L62.24,236.04 L62.74,235.14 L63.25,234.24 L63.76,233.35 L64.26,232.45 L64.77,231.56 L65.28,230.67 L65.78,229.79 L66.29,228.91 L66.79,228.03 L67.30,227.15 L67.81,226.28 L68.31,225.41 L68.82,224.54 L69.33,223.67 L69.83,222.81 L70.34,221.95 L70.85,221.09 L71.35,220.24 L71.86,219.38 L72.37,218.53 L72.87,217.69 L73.38,216.84 L73.89,216.00 L74.39,215.16 L74.90,214.33 L75.41,213.49 L75.91,212.66 L76.42,211.83 L76.92,211.01 L77.43,210.19 L77.94,209.37 L78.44,208.55 L78.95,207.74 L79.46,206.92 L79.96,206.12 L80.47,205.31 L80.98,204.51 L81.48,203.71 L81.99,202.91 L82.50,202.11 L83.00,201.32 L83.51,200.53 L84.02,199.74 L84.52,198.96 L85.03,198.18 L85.54,197.40 L86.04,196.62 L86.55,195.85 L87.05,195.08 L87.56,194.31 L88.07,193.54 L88.57,192.78 L89.08,192.02 L89.59,191.26 L90.09,190.51 L90.60,189.76 L91.11,189.01 L91.61,188.26 L92.12,187.52 L92.63,186.78 L93.13,186.04 L93.64,185.30 L94.15,184.57 L94.65,183.84 L95.16,183.11 L95.67,182.39 L96.17,181.67 L96.68,180.95 L97.19,180.23 L97.69,179.52 L98.20,178.80 L98.70,178.10 L99.21,177.39 L99.72,176.69 L100.22,175.99 L100.73,175.29 L101.24,174.59 L101.74,173.90 L102.25,173.21 L102.76,172.53 L103.26,171.84 L103.77,171.16 L104.28,170.48 L104.78,169.81 L105.29,169.13 L105.80,168.46 L106.30,167.80 L106.81,167.13 L107.32,166.47 L107.82,165.81 L108.33,165.15 L108.83,164.50 L109.34,163.85 L109.85,163.20 L110.35,162.55 L110.86,161.91 L111.37,161.27 L111.87,160.63 L112.38,159.99 L112.89,159.36 L113.39,158.73 L113.90,158.11 L114.41,157.48 L114.91,156.86 L115.42,156.24 L115.93,155.62 L116.43,155.01 L116.94,154.40 L117.45,153.79 L117.95,153.19 L118.46,152.58 L118.96,151.98 L119.47,151.39 L119.98,150.79 L120.48,150.20 L120.99,149.61 L121.50,149.03 L122.00,148.44 L122.51,147.86 L123.02,147.28 L123.52,146.71 L124.03,146.14 L124.54,145.57 L125.04,145.00 L125.55,144.43 L126.06,143.87 L126.56,143.31 L127.07,142.76 L127.58,142.20 L128.08,141.65 L128.59,141.10 L129.10,140.56 L129.60,140.01 L130.11,139.47 L130.61,138.94 L131.12,138.40 L131.63,137.87 L132.13,137.34 L132.64,136.81 L133.15,136.29 L133.65,135.77 L134.16,135.25 L134.67,134.74 L135.17,134.22 L135.68,133.71 L136.19,133.20 L136.69,132.70 L137.20,132.20 L137.71,131.70 L138.21,131.20 L138.72,130.71 L139.23,130.22 L139.73,129.73 L140.24,129.24 L140.74,128.76 L141.25,128.28 L141.76,127.80 L142.26,127.33 L142.77,126.85 L143.28,126.38 L143.78,125.92 L144.29,125.45 L144.80,124.99 L145.30,124.53 L145.81,124.08 L146.32,123.62 L146.82,123.17 L147.33,122.72 L147.84,122.28 L148.34,121.84 L148.85,121.40 L149.36,120.96 L149.86,120.53 L150.37,120.09 L150.87,119.67 L151.38,119.24 L151.89,118.82 L152.39,118.40 L152.90,117.98 L153.41,117.56 L153.91,117.15 L154.42,116.74 L154.93,116.33 L155.43,115.93 L155.94,115.53 L156.45,115.13 L156.95,114.73 L157.46,114.34 L157.97,113.95 L158.47,113.56 L158.98,113.17 L159.49,112.79 L159.99,112.41 L160.50,112.03 L161.01,111.66 L161.51,111.29 L162.02,110.92 L162.52,110.55 L163.03,110.19 L163.54,109.83 L164.04,109.47 L164.55,109.11 L165.06,108.76 L165.56,108.41 L166.07,108.06 L166.58,107.72 L167.08,107.38 L167.59,107.04 L168.10,106.70 L168.60,106.37 L169.11,106.03 L169.62,105.71 L170.12,105.38 L170.63,105.06 L171.14,104.74 L171.64,104.42 L172.15,104.10 L172.65,103.79 L173.16,103.48 L173.67,103.18 L174.17,102.87 L174.68,102.57 L175.19,102.27 L175.69,101.98 L176.20,101.68 L176.71,101.39 L177.21,101.11 L177.72,100.82 L178.23,100.54 L178.73,100.26 L179.24,99.98 L179.75,99.71 L180.25,99.44 L180.76,99.17 L181.27,98.90 L181.77,98.64 L182.28,98.38 L182.78,98.12 L183.29,97.86 L183.80,97.61 L184.30,97.36 L184.81,97.12 L185.32,96.87 L185.82,96.63 L186.33,96.39 L186.84,96.15 L187.34,95.92 L187.85,95.69 L188.36,95.46 L188.86,95.24 L189.37,95.01 L189.88,94.79 L190.38,94.58 L190.89,94.36 L191.40,94.15 L191.90,93.94 L192.41,93.74 L192.92,93.53 L193.42,93.33 L193.93,93.13 L194.43,92.94 L194.94,92.75 L195.45,92.56 L195.95,92.37 L196.46,92.18 L196.97,92.00 L197.47,91.82 L197.98,91.65 L198.49,91.47 L198.99,91.30 L199.50,91.13 L200.01,90.97 L200.51,90.80 L201.02,90.64 L201.53,90.49 L202.03,90.33 L202.54,90.18 L203.05,90.03 L203.55,89.88 L204.06,89.74 L204.56,89.60 L205.07,89.46 L205.58,89.33 L206.08,89.19 L206.59,89.06 L207.10,88.93 L207.60,88.81 L208.11,88.69 L208.62,88.57 L209.12,88.45 L209.63,88.34 L210.14,88.23 L210.64,88.12 L211.15,88.01 L211.66,87.91 L212.16,87.81 L212.67,87.71 L213.18,87.62 L213.68,87.52 L214.19,87.43 L214.69,87.35 L215.20,87.26 L215.71,87.18 L216.21,87.10 L216.72,87.03 L217.23,86.95 L217.73,86.88 L218.24,86.81 L218.75,86.75 L219.25,86.69 L219.76,86.63 L220.27,86.57 L220.77,86.52 L221.28,86.46 L221.79,86.42 L222.29,86.37 L222.80,86.33 L223.31,86.29 L223.81,86.25 L224.32,86.21 L224.83,86.18 L225.33,86.15 L225.84,86.12 L226.34,86.10 L226.85,86.08 L227.36,86.06 L227.86,86.04 L228.37,86.03 L228.88,86.02 L229.38,86.01 L229.89,86.00 L230.40,86.00 L230.90,86.00 L231.41,86.00 L231.92,86.01 L232.42,86.02 L232.93,86.03 L233.44,86.04 L233.94,86.06 L234.45,86.08 L234.96,86.10 L235.46,86.12 L235.97,86.15 L236.47,86.18 L236.98,86.21 L237.49,86.25 L237.99,86.29 L238.50,86.33 L239.01,86.37 L239.51,86.42 L240.02,86.46 L240.53,86.52 L241.03,86.57 L241.54,86.63 L242.05,86.69 L242.55,86.75 L243.06,86.81 L243.57,86.88 L244.07,86.95 L244.58,87.03 L245.09,87.10 L245.59,87.18 L246.10,87.26 L246.61,87.35 L247.11,87.43 L247.62,87.52 L248.12,87.62 L248.63,87.71 L249.14,87.81 L249.64,87.91 L250.15,88.01 L250.66,88.12 L251.16,88.23 L251.67,88.34 L252.18,88.45 L252.68,88.57 L253.19,88.69 L253.70,88.81 L254.20,88.93 L254.71,89.06 L255.22,89.19 L255.72,89.33 L256.23,89.46 L256.74,89.60 L257.24,89.74 L257.75,89.88 L258.25,90.03 L258.76,90.18 L259.27,90.33 L259.77,90.49 L260.28,90.64 L260.79,90.80 L261.29,90.97 L261.80,91.13 L262.31,91.30 L262.81,91.47 L263.32,91.65 L263.83,91.82 L264.33,92.00 L264.84,92.18 L265.35,92.37 L265.85,92.56 L266.36,92.75 L266.87,92.94 L267.37,93.13 L267.88,93.33 L268.38,93.53 L268.89,93.74 L269.40,93.94 L269.90,94.15 L270.41,94.36 L270.92,94.58 L271.42,94.79 L271.93,95.01 L272.44,95.24 L272.94,95.46 L273.45,95.69 L273.96,95.92 L274.46,96.15 L274.97,96.39 L275.48,96.63 L275.98,96.87 L276.49,97.12 L277.00,97.36 L277.50,97.61 L278.01,97.86 L278.52,98.12 L279.02,98.38 L279.53,98.64 L280.03,98.90 L280.54,99.17 L281.05,99.44 L281.55,99.71 L282.06,99.98 L282.57,100.26 L283.07,100.54 L283.58,100.82 L284.09,101.11 L284.59,101.39 L285.10,101.68 L285.61,101.98 L286.11,102.27 L286.62,102.57 L287.13,102.87 L287.63,103.18 L288.14,103.48 L288.65,103.79 L289.15,104.10 L289.66,104.42 L290.16,104.74 L290.67,105.06 L291.18,105.38 L291.68,105.71 L292.19,106.03 L292.70,106.37 L293.20,106.70 L293.71,107.04 L294.22,107.38 L294.72,107.72 L295.23,108.06 L295.74,108.41 L296.24,108.76 L296.75,109.11 L297.26,109.47 L297.76,109.83 L298.27,110.19 L298.78,110.55 L299.28,110.92 L299.79,111.29 L300.29,111.66 L300.80,112.03 L301.31,112.41 L301.81,112.79 L302.32,113.17 L302.83,113.56 L303.33,113.95 L303.84,114.34 L304.35,114.73 L304.85,115.13 L305.36,115.53 L305.87,115.93 L306.37,116.33 L306.88,116.74 L307.39,117.15 L307.89,117.56 L308.40,117.98 L308.91,118.40 L309.41,118.82 L309.92,119.24 L310.43,119.67 L310.93,120.09 L311.44,120.53 L311.94,120.96 L312.45,121.40 L312.96,121.84 L313.46,122.28 L313.97,122.72 L314.48,123.17 L314.98,123.62 L315.49,124.08 L316.00,124.53 L316.50,124.99 L317.01,125.45 L317.52,125.92 L318.02,126.38 L318.53,126.85 L319.04,127.33 L319.54,127.80 L320.05,128.28 L320.56,128.76 L321.06,129.24 L321.57,129.73 L322.07,130.22 L322.58,130.71 L323.09,131.20 L323.59,131.70 L324.10,132.20 L324.61,132.70 L325.11,133.20 L325.62,133.71 L326.13,134.22 L326.63,134.74 L327.14,135.25 L327.65,135.77 L328.15,136.29 L328.66,136.81 L329.17,137.34 L329.67,137.87 L330.18,138.40 L330.69,138.94 L331.19,139.47 L331.70,140.01 L332.20,140.56 L332.71,141.10 L333.22,141.65 L333.72,142.20 L334.23,142.76 L334.74,143.31 L335.24,143.87 L335.75,144.43 L336.26,145.00 L336.76,145.57 L337.27,146.14 L337.78,146.71 L338.28,147.28 L338.79,147.86 L339.30,148.44 L339.80,149.03 L340.31,149.61 L340.82,150.20 L341.32,150.79 L341.83,151.39 L342.34,151.98 L342.84,152.58 L343.35,153.19 L343.85,153.79 L344.36,154.40 L344.87,155.01 L345.37,155.62 L345.88,156.24 L346.39,156.86 L346.89,157.48 L347.40,158.11 L347.91,158.73 L348.41,159.36 L348.92,159.99 L349.43,160.63 L349.93,161.27 L350.44,161.91 L350.95,162.55 L351.45,163.20 L351.96,163.85 L352.47,164.50 L352.97,165.15 L353.48,165.81 L353.98,166.47 L354.49,167.13 L355.00,167.80 L355.50,168.46 L356.01,169.13 L356.52,169.81 L357.02,170.48 L357.53,171.16 L358.04,171.84 L358.54,172.53 L359.05,173.21 L359.56,173.90 L360.06,174.59 L360.57,175.29 L361.08,175.99 L361.58,176.69 L362.09,177.39 L362.60,178.10 L363.10,178.80 L363.61,179.52 L364.11,180.23 L364.62,180.95 L365.13,181.67 L365.63,182.39 L366.14,183.11 L366.65,183.84 L367.15,184.57 L367.66,185.30 L368.17,186.04 L368.67,186.78 L369.18,187.52 L369.69,188.26 L370.19,189.01 L370.70,189.76 L371.21,190.51 L371.71,191.26 L372.22,192.02 L372.73,192.78 L373.23,193.54 L373.74,194.31 L374.25,195.08 L374.75,195.85 L375.26,196.62 L375.76,197.40 L376.27,198.18 L376.78,198.96 L377.28,199.74 L377.79,200.53 L378.30,201.32 L378.80,202.11 L379.31,202.91 L379.82,203.71 L380.32,204.51 L380.83,205.31 L381.34,206.12 L381.84,206.92 L382.35,207.74 L382.86,208.55 L383.36,209.37 L383.87,210.19 L384.38,211.01 L384.88,211.83 L385.39,212.66 L385.89,213.49 L386.40,214.33 L386.91,215.16 L387.41,216.00 L387.92,216.84 L388.43,217.69 L388.93,218.53 L389.44,219.38 L389.95,220.24 L390.45,221.09 L390.96,221.95 L391.47,222.81 L391.97,223.67 L392.48,224.54 L392.99,225.41 L393.49,226.28 L394.00,227.15 L394.51,228.03 L395.01,228.91 L395.52,229.79 L396.02,230.67 L396.53,231.56 L397.04,232.45 L397.54,233.35 L398.05,234.24 L398.56,235.14 L399.06,236.04 L399.57,236.94 L400.08,237.85 L400.58,238.76 L401.09,239.67 L401.60,240.59 L402.10,241.50 L402.61,242.42 L403.12,243.35 L403.62,244.27 L404.13,245.20 L404.64,246.13 L405.14,247.07 L405.65,248.00 L406.16,248.94 L406.66,249.88 L407.17,250.83 L407.67,251.78 L408.18,252.73 L408.69,253.68 L409.19,254.63 L409.70,255.59 L410.21,256.55 L410.71,257.52 L411.22,258.48 L411.73,259.45 L412.23,260.42 L412.74,261.40 L413.25,262.37 L413.75,263.35 L414.26,264.34 L414.77,265.32 L415.27,266.31 L415.78,267.30 L416.29,268.29 L416.79,269.29 L417.30,270.29 L417.80,271.29 L418.31,272.30 L418.82,273.30 L419.32,274.31 L419.83,275.32 L420.34,276.34 L420.84,277.36 L421.35,278.38 L421.86,279.40 L422.36,280.43 L422.87,281.46 L423.38,282.49 L423.88,283.52 L424.39,284.56 L424.90,285.60 L425.40,286.64 L425.91,287.69 L426.42,288.73 L426.92,289.78 L427.43,290.84 L427.93,291.89 L428.44,292.95 L428.95,294.01 L429.45,295.08 L429.96,296.14 L430.47,297.21 L430.97,298.28 L431.48,299.36 L431.99,300.44 L432.49,301.52 L433.00,302.60" fill="none" stroke="#000" stroke-width="2" stroke-dasharray="7.100 6.232" stroke-dashoffset="-0.00"/>
<!-- RIV -->
<path d="M28.30,302.60 L28.98,302.60 L29.65,302.60 L30.33,302.60 L31.00,302.60 L31.68,302.49 L32.35,302.20 L33.03,301.83 L33.71,301.38 L34.38,300.86 L35.06,300.28 L35.73,299.62 L36.41,298.91 L37.08,298.14 L37.76,297.31 L38.43,296.43 L39.11,295.50 L39.79,294.52 L40.46,293.50 L41.14,292.43 L41.81,291.33 L42.49,290.18 L43.16,289.01 L43.84,287.80 L44.52,286.56 L45.19,285.29 L45.87,283.99 L46.54,282.67 L47.22,281.32 L47.89,279.96 L48.57,278.57 L49.24,277.17 L49.92,275.75 L50.60,274.31 L51.27,272.86 L51.95,271.40 L52.62,269.93 L53.30,268.45 L53.97,266.96 L54.65,265.46 L55.33,263.95 L56.00,262.44 L56.68,260.92 L57.35,259.40 L58.03,257.88 L58.70,256.36 L59.38,254.83 L60.05,253.30 L60.73,251.78 L61.41,250.25 L62.08,248.73 L62.76,247.21 L63.43,245.69 L64.11,244.18 L64.78,242.67 L65.46,241.16 L66.14,239.66 L66.81,238.16 L67.49,236.67 L68.16,235.19 L68.84,233.71 L69.51,232.24 L70.19,230.77 L70.86,229.31 L71.54,227.86 L72.22,226.42 L72.89,224.99 L73.57,223.56 L74.24,222.14 L74.92,220.73 L75.59,219.33 L76.27,217.94 L76.95,216.55 L77.62,215.18 L78.30,213.81 L78.97,212.46 L79.65,211.11 L80.32,209.77 L81.00,208.44 L81.67,207.12 L82.35,205.81 L83.03,204.51 L83.70,203.22 L84.38,201.93 L85.05,200.66 L85.73,199.39 L86.40,198.13 L87.08,196.89 L87.76,195.65 L88.43,194.42 L89.11,193.19 L89.78,191.98 L90.46,190.78 L91.13,189.58 L91.81,188.39 L92.48,187.21 L93.16,186.04 L93.84,184.88 L94.51,183.72 L95.19,182.57 L95.86,181.43 L96.54,180.30 L97.21,179.18 L97.89,178.06 L98.57,176.95 L99.24,175.85 L99.92,174.76 L100.59,173.68 L101.27,172.60 L101.94,171.53 L102.62,170.47 L103.29,169.42 L103.97,168.38 L104.65,167.34 L105.32,166.32 L106.00,165.30 L106.67,164.29 L107.35,163.29 L108.02,162.30 L108.70,161.32 L109.38,160.34 L110.05,159.38 L110.73,158.42 L111.40,157.48 L112.08,156.54 L112.75,155.62 L113.43,154.70 L114.10,153.79 L114.78,152.89 L115.46,152.00 L116.13,151.12 L116.81,150.25 L117.48,149.39 L118.16,148.54 L118.83,147.70 L119.51,146.86 L120.19,146.04 L120.86,145.22 L121.54,144.41 L122.21,143.61 L122.89,142.81 L123.56,142.03 L124.24,141.25 L124.91,140.48 L125.59,139.71 L126.27,138.95 L126.94,138.20 L127.62,137.46 L128.29,136.72 L128.97,135.99 L129.64,135.26 L130.32,134.54 L131.00,133.82 L131.67,133.11 L132.35,132.40 L133.02,131.70 L133.70,131.01 L134.37,130.32 L135.05,129.63 L135.72,128.95 L136.40,128.27 L137.08,127.60 L137.75,126.93 L138.43,126.27 L139.10,125.61 L139.78,124.95 L140.45,124.30 L141.13,123.65 L141.81,123.01 L142.48,122.38 L143.16,121.74 L143.83,121.12 L144.51,120.49 L145.18,119.87 L145.86,119.26 L146.53,118.65 L147.21,118.05 L147.89,117.45 L148.56,116.85 L149.24,116.26 L149.91,115.68 L150.59,115.10 L151.26,114.52 L151.94,113.95 L152.62,113.39 L153.29,112.83 L153.97,112.27 L154.64,111.72 L155.32,111.18 L155.99,110.64 L156.67,110.10 L157.34,109.57 L158.02,109.05 L158.70,108.53 L159.37,108.02 L160.05,107.51 L160.72,107.01 L161.40,106.51 L162.07,106.02 L162.75,105.53 L163.43,105.05 L164.10,104.57 L164.78,104.10 L165.45,103.63 L166.13,103.17 L166.80,102.71 L167.48,102.26 L168.15,101.82 L168.83,101.38 L169.51,100.94 L170.18,100.51 L170.86,100.09 L171.53,99.67 L172.21,99.25 L172.88,98.84 L173.56,98.44 L174.24,98.04 L174.91,97.65 L175.59,97.26 L176.26,96.88 L176.94,96.50 L177.61,96.12 L178.29,95.76 L178.96,95.39 L179.64,95.04 L180.32,94.68 L180.99,94.34 L181.67,93.99 L182.34,93.66 L183.02,93.33 L183.69,93.00 L184.37,92.68 L185.05,92.36 L185.72,92.05 L186.40,91.74 L187.07,91.44 L187.75,91.14 L188.42,90.85 L189.10,90.56 L189.77,90.28 L190.45,90.00 L191.13,89.73 L191.80,89.46 L192.48,89.20 L193.15,88.94 L193.83,88.69 L194.50,88.44 L195.18,88.20 L195.86,87.96 L196.53,87.73 L197.21,87.50 L197.88,87.28 L198.56,87.06 L199.23,86.85 L199.91,86.64 L200.58,86.43 L201.26,86.23 L201.94,86.04 L202.61,85.85 L203.29,85.66 L203.96,85.48 L204.64,85.31 L205.31,85.13 L205.99,84.97 L206.67,84.81 L207.34,84.65 L208.02,84.50 L208.69,84.35 L209.37,84.20 L210.04,84.06 L210.72,83.93 L211.39,83.80 L212.07,83.68 L212.75,83.55 L213.42,83.44 L214.10,83.33 L214.77,83.22 L215.45,83.12 L216.12,83.02 L216.80,82.93 L217.48,82.84 L218.15,82.75 L218.83,82.67 L219.50,82.60 L220.18,82.53 L220.85,82.46 L221.53,82.40 L222.20,82.34 L222.88,82.29 L223.56,82.24 L224.23,82.19 L224.91,82.15 L225.58,82.12 L226.26,82.09 L226.93,82.06 L227.61,82.04 L228.29,82.02 L228.96,82.01 L229.64,82.00 L230.31,82.00 L230.99,82.00 L231.66,82.00 L232.34,82.01 L233.01,82.02 L233.69,82.04 L234.37,82.06 L235.04,82.09 L235.72,82.12 L236.39,82.15 L237.07,82.19 L237.74,82.24 L238.42,82.29 L239.10,82.34 L239.77,82.40 L240.45,82.46 L241.12,82.53 L241.80,82.60 L242.47,82.67 L243.15,82.75 L243.82,82.84 L244.50,82.93 L245.18,83.02 L245.85,83.12 L246.53,83.22 L247.20,83.33 L247.88,83.44 L248.55,83.55 L249.23,83.68 L249.91,83.80 L250.58,83.93 L251.26,84.06 L251.93,84.20 L252.61,84.35 L253.28,84.50 L253.96,84.65 L254.63,84.81 L255.31,84.97 L255.99,85.13 L256.66,85.31 L257.34,85.48 L258.01,85.66 L258.69,85.85 L259.36,86.04 L260.04,86.23 L260.72,86.43 L261.39,86.64 L262.07,86.85 L262.74,87.06 L263.42,87.28 L264.09,87.50 L264.77,87.73 L265.44,87.96 L266.12,88.20 L266.80,88.44 L267.47,88.69 L268.15,88.94 L268.82,89.20 L269.50,89.46 L270.17,89.73 L270.85,90.00 L271.53,90.28 L272.20,90.56 L272.88,90.85 L273.55,91.14 L274.23,91.44 L274.90,91.74 L275.58,92.05 L276.25,92.36 L276.93,92.68 L277.61,93.00 L278.28,93.33 L278.96,93.66 L279.63,93.99 L280.31,94.34 L280.98,94.68 L281.66,95.04 L282.34,95.39 L283.01,95.76 L283.69,96.12 L284.36,96.50 L285.04,96.88 L285.71,97.26 L286.39,97.65 L287.06,98.04 L287.74,98.44 L288.42,98.84 L289.09,99.25 L289.77,99.67 L290.44,100.09 L291.12,100.51 L291.79,100.94 L292.47,101.38 L293.15,101.82 L293.82,102.26 L294.50,102.71 L295.17,103.17 L295.85,103.63 L296.52,104.10 L297.20,104.57 L297.87,105.05 L298.55,105.53 L299.23,106.02 L299.90,106.51 L300.58,107.01 L301.25,107.51 L301.93,108.02 L302.60,108.53 L303.28,109.05 L303.96,109.57 L304.63,110.10 L305.31,110.64 L305.98,111.18 L306.66,111.72 L307.33,112.27 L308.01,112.83 L308.68,113.39 L309.36,113.95 L310.04,114.52 L310.71,115.10 L311.39,115.68 L312.06,116.26 L312.74,116.85 L313.41,117.45 L314.09,118.05 L314.77,118.65 L315.44,119.26 L316.12,119.87 L316.79,120.49 L317.47,121.12 L318.14,121.74 L318.82,122.38 L319.49,123.01 L320.17,123.65 L320.85,124.30 L321.52,124.95 L322.20,125.61 L322.87,126.27 L323.55,126.93 L324.22,127.60 L324.90,128.27 L325.58,128.95 L326.25,129.63 L326.93,130.32 L327.60,131.01 L328.28,131.70 L328.95,132.40 L329.63,133.11 L330.30,133.82 L330.98,134.54 L331.66,135.26 L332.33,135.99 L333.01,136.72 L333.68,137.46 L334.36,138.20 L335.03,138.95 L335.71,139.71 L336.39,140.48 L337.06,141.25 L337.74,142.03 L338.41,142.81 L339.09,143.61 L339.76,144.41 L340.44,145.22 L341.11,146.04 L341.79,146.86 L342.47,147.70 L343.14,148.54 L343.82,149.39 L344.49,150.25 L345.17,151.12 L345.84,152.00 L346.52,152.89 L347.20,153.79 L347.87,154.70 L348.55,155.62 L349.22,156.54 L349.90,157.48 L350.57,158.42 L351.25,159.38 L351.92,160.34 L352.60,161.32 L353.28,162.30 L353.95,163.29 L354.63,164.29 L355.30,165.30 L355.98,166.32 L356.65,167.34 L357.33,168.38 L358.01,169.42 L358.68,170.47 L359.36,171.53 L360.03,172.60 L360.71,173.68 L361.38,174.76 L362.06,175.85 L362.73,176.95 L363.41,178.06 L364.09,179.18 L364.76,180.30 L365.44,181.43 L366.11,182.57 L366.79,183.72 L367.46,184.88 L368.14,186.04 L368.82,187.21 L369.49,188.39 L370.17,189.58 L370.84,190.78 L371.52,191.98 L372.19,193.19 L372.87,194.42 L373.54,195.65 L374.22,196.89 L374.90,198.13 L375.57,199.39 L376.25,200.66 L376.92,201.93 L377.60,203.22 L378.27,204.51 L378.95,205.81 L379.63,207.12 L380.30,208.44 L380.98,209.77 L381.65,211.11 L382.33,212.46 L383.00,213.81 L383.68,215.18 L384.35,216.55 L385.03,217.94 L385.71,219.33 L386.38,220.73 L387.06,222.14 L387.73,223.56 L388.41,224.99 L389.08,226.42 L389.76,227.86 L390.44,229.31 L391.11,230.77 L391.79,232.24 L392.46,233.71 L393.14,235.19 L393.81,236.67 L394.49,238.16 L395.16,239.66 L395.84,241.16 L396.52,242.67 L397.19,244.18 L397.87,245.69 L398.54,247.21 L399.22,248.73 L399.89,250.25 L400.57,251.78 L401.25,253.30 L401.92,254.83 L402.60,256.36 L403.27,257.88 L403.95,259.40 L404.62,260.92 L405.30,262.44 L405.97,263.95 L406.65,265.46 L407.33,266.96 L408.00,268.45 L408.68,269.93 L409.35,271.40 L410.03,272.86 L410.70,274.31 L411.38,275.75 L412.06,277.17 L412.73,278.57 L413.41,279.96 L414.08,281.32 L414.76,282.67 L415.43,283.99 L416.11,285.29 L416.78,286.56 L417.46,287.80 L418.14,289.01 L418.81,290.18 L419.49,291.33 L420.16,292.43 L420.84,293.50 L421.51,294.52 L422.19,295.50 L422.87,296.43 L423.54,297.31 L424.22,298.14 L424.89,298.91 L425.57,299.62 L426.24,300.28 L426.92,300.86 L427.59,301.38 L428.27,301.83 L428.95,302.20 L429.62,302.49 L430.30,302.60 L430.97,302.60 L431.65,302.60 L432.32,302.60 L433.00,302.60" fill="none" stroke="#f80008" stroke-width="1.95" stroke-linejoin="round"/>
<!-- end dashes on top -->
<path d="M28.30,302.60 L28.81,301.52 L29.31,300.44 L29.82,299.36 L30.33,298.28 L30.83,297.21 L31.34,296.14 L31.85,295.08 L32.35,294.01 L32.86,292.95 L33.37,291.89 L33.87,290.84 L34.38,289.78 L34.88,288.73" fill="none" stroke="#000" stroke-width="2" stroke-dasharray="7.100 100"/>
<path d="M433.00,302.60 L432.49,301.52 L431.99,300.44 L431.48,299.36 L430.97,298.28 L430.47,297.21 L429.96,296.14 L429.45,295.08 L428.95,294.01 L428.44,292.95 L427.93,291.89 L427.43,290.84 L426.92,289.78 L426.42,288.73" fill="none" stroke="#000" stroke-width="2" stroke-dasharray="7.100 100"/>
<!-- labels -->
<g font-size="22">
<text x="28.3" y="322.3" text-anchor="middle">0.0</text>
<text x="109.2" y="322.3" text-anchor="middle">0.2</text>
<text x="190.2" y="322.3" text-anchor="middle">0.4</text>
<text x="271.1" y="322.3" text-anchor="middle">0.6</text>
<text x="352.1" y="322.3" text-anchor="middle">0.8</text>
<text x="433.0" y="322.3" text-anchor="middle">1.0</text>
<text x="26.6" y="237.3" text-anchor="end" textLength="26.9" lengthAdjust="spacingAndGlyphs">0.5</text>
<text x="26.6" y="165.1" text-anchor="end" textLength="26.9" lengthAdjust="spacingAndGlyphs">1.0</text>
<text x="26.6" y="92.9" text-anchor="end" textLength="26.9" lengthAdjust="spacingAndGlyphs">1.5</text>
</g>
<g stroke="#111" fill="none" stroke-linecap="butt"><line x1="460.64" y1="300.60" x2="467.30" y2="310.20" stroke-width="2.0"/><line x1="467.66" y1="300.60" x2="459.80" y2="310.20" stroke-width="1.0"/><line x1="457.90" y1="300.60" x2="463.14" y2="300.60" stroke-width="1.0"/><line x1="465.04" y1="300.60" x2="469.44" y2="300.60" stroke-width="1.0"/><line x1="457.90" y1="310.20" x2="462.18" y2="310.20" stroke-width="1.0"/><line x1="464.80" y1="310.20" x2="469.80" y2="310.20" stroke-width="1.0"/></g>
<!-- title -->
<text x="4.5" y="20" font-size="22" font-style="italic">ϕ</text>
<text x="16" y="23.5" font-size="14" font-style="italic" textLength="8.6" lengthAdjust="spacingAndGlyphs">π</text>
<text x="25.5" y="20" font-size="22">(</text>
<g stroke="#111" fill="none" stroke-linecap="butt"><line x1="34.66" y1="11.05" x2="42.11" y2="19.45" stroke-width="1.8"/><line x1="42.51" y1="11.05" x2="33.73" y2="19.45" stroke-width="0.9"/><line x1="31.60" y1="11.05" x2="37.45" y2="11.05" stroke-width="0.9"/><line x1="39.58" y1="11.05" x2="44.50" y2="11.05" stroke-width="0.9"/><line x1="31.60" y1="19.45" x2="36.39" y2="19.45" stroke-width="0.9"/><line x1="39.31" y1="19.45" x2="44.90" y2="19.45" stroke-width="0.9"/></g>
<text x="44.4" y="20" font-size="22">)</text>
<!-- legend -->
<line x1="478" y1="122.8" x2="501.3" y2="122.8" stroke="#075a95" stroke-width="3"/>
<text x="508.5" y="125" font-size="21" textLength="70.5" lengthAdjust="spacingAndGlyphs">LaMET</text>
<line x1="479" y1="152.7" x2="502.3" y2="152.7" stroke="#f80008" stroke-width="3"/>
<text x="509" y="157.6" font-size="21" textLength="38" lengthAdjust="spacingAndGlyphs">RIV</text>
<line x1="481.8" y1="183.5" x2="500.2" y2="183.5" stroke="#000" stroke-width="3" stroke-dasharray="4.7 2.05"/>
<text x="508.3" y="189" font-size="21">6</text>
<g stroke="#111" fill="none" stroke-linecap="butt"><line x1="521.47" y1="180.03" x2="527.24" y2="188.47" stroke-width="1.6"/><line x1="527.55" y1="180.03" x2="520.75" y2="188.47" stroke-width="0.8"/><line x1="519.10" y1="180.03" x2="523.63" y2="180.03" stroke-width="0.85"/><line x1="525.28" y1="180.03" x2="529.09" y2="180.03" stroke-width="0.85"/><line x1="519.10" y1="188.47" x2="522.81" y2="188.47" stroke-width="0.85"/><line x1="525.07" y1="188.47" x2="529.40" y2="188.47" stroke-width="0.85"/></g><g stroke="#111" fill="none" stroke-linecap="butt"><line x1="532.14" y1="180.03" x2="538.07" y2="188.47" stroke-width="1.6"/><line x1="538.39" y1="180.03" x2="531.40" y2="188.47" stroke-width="0.8"/><line x1="529.70" y1="180.03" x2="534.36" y2="180.03" stroke-width="0.85"/><line x1="536.06" y1="180.03" x2="539.98" y2="180.03" stroke-width="0.85"/><line x1="529.70" y1="188.47" x2="533.52" y2="188.47" stroke-width="0.85"/><line x1="535.85" y1="188.47" x2="540.30" y2="188.47" stroke-width="0.85"/></g>
<line x1="529.3" y1="176.8" x2="542.1" y2="176.8" stroke="#222" stroke-width="1.1"/>
</svg>
</body></html>
